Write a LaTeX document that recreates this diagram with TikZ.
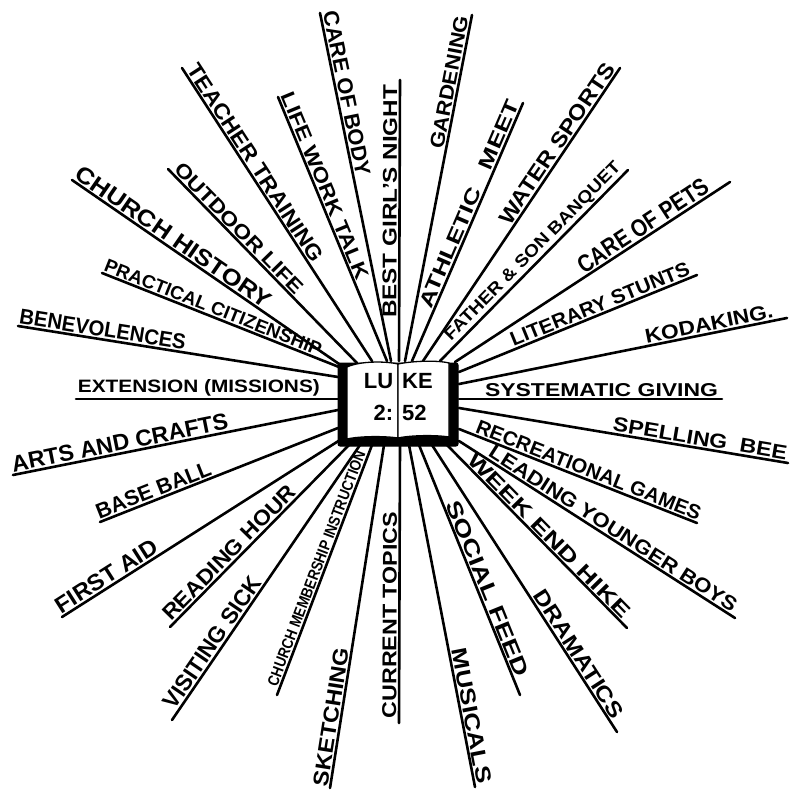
\documentclass[tikz,border=0pt]{standalone}
\usepackage{fontspec}
\setmainfont{Liberation Sans}
\usepackage{graphicx}
\tikzset{
  rayline/.style={line width=2.6pt, line cap=round},
  lab/.style={sloped, above, inner sep=1.3pt, font=\bfseries},
  cover/.style={fill=black, draw=black, line width=1pt, rounded corners=2pt, minimum width=120pt, minimum height=83pt, inner sep=0pt},
  page/.style={fill=white, draw=black, line width=1.3pt},
  booktext/.style={inner sep=0pt, font=\fontsize{22}{22}\selectfont\bfseries}
}
\newcommand{\sunray}[7]{%
  \coordinate (#1i) at (#2);
  \coordinate (#1o) at (#3);
  \draw[rayline] (#1i) -- (#1o) node[lab, pos=#4] (#1) {\resizebox{#5pt}{#6pt}{#7}};}
\begin{document}
\begin{tikzpicture}[x=1pt, y=-1pt]
\useasboundingbox (0,0) rectangle (790,791);
% rays, clockwise from the left
\sunray{ben}{338,377}{18,326}{0.74}{168}{15}{BENEVOLENCES}
\sunray{ext}{338,399}{76,399}{0.531}{242}{13}{EXTENSION (MISSIONS)}
\sunray{pra}{339,367}{102,273}{0.545}{232}{13}{PRACTICAL CITIZENSHIP}
\sunray{chh}{342,366}{72,180}{0.646}{232}{16}{CHURCH HISTORY}
\sunray{out}{357,363}{168,169}{0.66}{175}{14}{OUTDOOR LIFE}
\sunray{tea}{372,361}{182,68}{0.658}{232}{15}{TEACHER TRAINING}
\sunray{lwt}{387,361}{278,97}{0.65}{200}{14}{LIFE WORK TALK}
\sunray{cob}{391,361}{320,13}{0.763}{168}{15}{CARE OF BODY}
\sunray{bgn}{399,361}{400,80}{0.568}{233}{14}{BEST GIRL'S NIGHT}
\sunray{gar}{405,361}{472,15}{0.80}{135}{14}{GARDENING}
\sunray{ath}{412,361}{523,103}{0.594}{224}{14}{ATHLETIC\ \ \ MEET}
\sunray{wat}{423,361}{620,68}{0.723}{190}{15}{WATER SPORTS}
\sunray{fat}{440,361}{628,170}{0.535}{243}{12}{FATHER \& SON BANQUET}
\sunray{pet}{455,362}{730,182}{0.706}{152}{17}{CARE OF PETS}
\sunray{lit}{459,372}{697,275}{0.607}{192}{14}{LITERARY STUNTS}
\sunray{kod}{459,384}{787,318}{0.768}{130}{14}{KODAKING.}
\sunray{sys}{459,399}{722,399}{0.542}{233}{13}{SYSTEMATIC GIVING}
\sunray{spe}{459,408}{788,463}{0.728}{176}{14}{SPELLING\ \ BEE}
\sunray{rec}{459,429}{697,523}{0.53}{240}{14}{RECREATIONAL GAMES}
\sunray{lea}{459,441}{735,618}{0.54}{290}{14}{LEADING YOUNGER BOYS}
\sunray{wee}{447,445}{627,628}{0.53}{222}{14}{WEEK END HIKE}
\sunray{dra}{432,445}{617,732}{0.747}{148}{15}{DRAMATICS}
\sunray{soc}{419,445}{520,695}{0.59}{188}{15}{SOCIAL FEED}
\sunray{mus}{409,445}{475,787}{0.797}{137}{15}{MUSICALS}
\sunray{cur}{400,445}{399,723}{0.612}{206}{14}{CURRENT TOPICS}
\sunray{ske}{384,445}{330,788}{0.797}{140}{15}{SKETCHING}
\sunray{cmi}{372,445}{277,695}{0.505}{250}{11}{CHURCH MEMBERSHIP INSTRUCTION}
\sunray{vis}{360,445}{172,720}{0.74}{155}{16}{VISITING SICK}
\sunray{rea}{349,445}{170,627}{0.63}{180}{15}{READING HOUR}
\sunray{fir}{340,440}{62,617}{0.82}{117}{16}{FIRST AID}
\sunray{bas}{338,428}{100,522}{0.76}{122}{15}{BASE BALL}
\sunray{art}{338,410}{13,475}{0.665}{220}{16}{ARTS AND CRAFTS}
% the book
\node[cover] (book) at (398,404.5) {};
\draw[page] (347,367) .. controls (360,361) and (385,361) .. (398,364)
  -- (398,438) .. controls (385,436) and (360,436) .. (347,439) -- cycle;
\draw[page] (398,364) .. controls (412,361) and (437,360) .. (449,363)
  -- (449,437) .. controls (437,435) and (412,435) .. (398,438) -- cycle;
\node[booktext, anchor=base east] (lu) at (393.5,388) {LU};
\node[booktext, anchor=base west] (ke) at (402,388) {KE};
\node[booktext, anchor=base east] (two) at (393.5,420) {2:};
\node[booktext, anchor=base west] (ft) at (402,420) {52};
\end{tikzpicture}
\end{document}
